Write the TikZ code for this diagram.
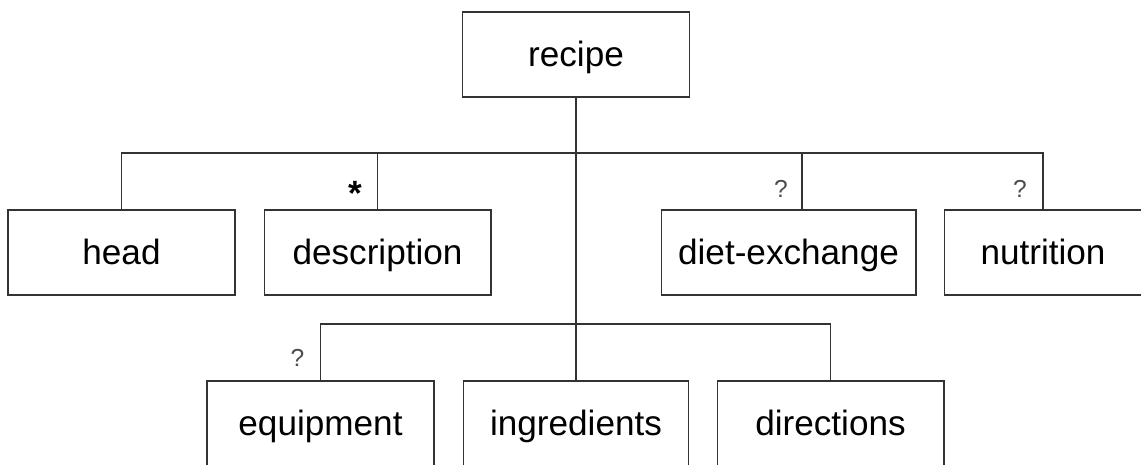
\documentclass[tikz,border=0pt]{standalone}
\usepackage{fontspec}
\setmainfont{Liberation Sans}
\usetikzlibrary{positioning}

\begin{document}
\begin{tikzpicture}[x=0.02cm,y=-0.02cm]
	\tikzstyle{enode}=[draw=black!80, line width=0.6pt, shape=rectangle, minimum width=4.54cm, minimum height=1.7cm, inner sep=0pt, text height=14.2pt, text depth=0pt, font=\fontsize{20}{24}\selectfont];
	\tikzstyle{mnode}=[anchor=base, inner sep=0pt, font=\fontsize{14}{16}\selectfont];
	\tikzstyle{tline}=[draw=black!80, line width=0.6pt];

	\useasboundingbox (0,0) rectangle (1141,464);

	\node[enode] (recipe) at (576,54.5) {recipe};

	\node[enode] (head) at (121.5,252.5) {head};
	\node[enode] (desc) at (377.5,252.5) {description};
	\node[enode, minimum width=5.1cm] (diet) at (788.5,252.5) {diet-exchange};
	\node[enode, minimum width=3.96cm] (nutr) at (1043,252.5) {nutrition};

	\node[enode] (equip) at (320.5,423.5) {equipment};
	\node[enode, minimum width=4.5cm] (ingr) at (576,423.5) {ingredients};
	\node[enode] (dirs) at (830.5,423.5) {directions};

	\coordinate (bus1) at (576,153);
	\coordinate (bus2) at (576,324);

	\node[mnode, font=\fontsize{20}{24}\selectfont\bfseries] (star) at (355,205) {*};
	\node[mnode, text=black!70] (qdiet) at (781,197) {?};
	\node[mnode, text=black!70] (qnutr) at (1020,197) {?};
	\node[mnode, text=black!70] (qequip) at (297.5,366) {?};

	\draw[tline] (recipe.south) -- (ingr.north);
	\draw[tline] (head.north) |- (bus1) -| (nutr.north);
	\draw[tline] (desc.north) -- (desc.north |- bus1);
	\draw[tline] ([xshift=0.27cm]diet.north) -- ([xshift=0.27cm]diet.north |- bus1);
	\draw[tline] (equip.north) |- (bus2) -| (dirs.north);

\end{tikzpicture}
\end{document}
